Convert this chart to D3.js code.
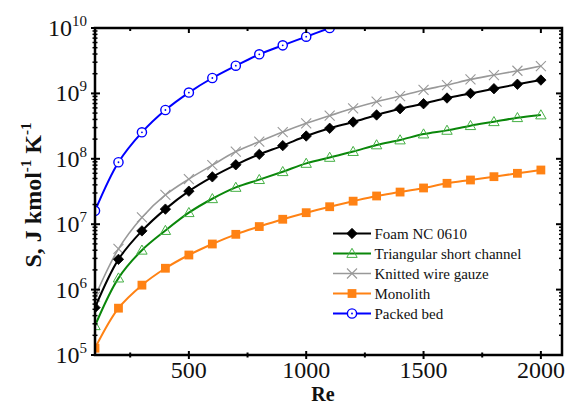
<!DOCTYPE html>
<html>
<head>
<meta charset="utf-8">
<script src="https://cdn.jsdelivr.net/npm/d3@7"></script>
<style>
  html, body { margin: 0; padding: 0; background: #fff; }
  svg { display: block; }
</style>
</head>
<body>
<svg id="chart" width="565" height="405"></svg>
<script>
// Reynolds numbers at which each packing was evaluated
const re = [100, 200, 300, 400, 500, 600, 700, 800, 900, 1000,
            1100, 1200, 1300, 1400, 1500, 1600, 1700, 1800, 1900, 2000];
const reShort = [100, 200, 300, 400, 500, 600, 700, 800, 900, 1000, 1100];

// Entropy generation S, J kmol^-1 K^-1
const foam = [5.3e5, 2.9e6, 7.9e6, 1.7e7, 3.2e7, 5.3e7, 8.1e7, 1.17e8, 1.59e8, 2.23e8,
              2.93e8, 3.65e8, 4.68e8, 5.83e8, 6.96e8, 8.5e8, 1.0e9, 1.18e9, 1.38e9, 1.6e9];
const triangular = [2.8e5, 1.5e6, 4.0e6, 8.0e6, 1.5e7, 2.45e7, 3.65e7, 4.8e7, 6.35e7, 8.5e7,
                    1.05e8, 1.29e8, 1.63e8, 1.94e8, 2.39e8, 2.72e8, 3.21e8, 3.69e8, 4.25e8, 4.68e8];
const knitted = [7.8e5, 4.2e6, 1.27e7, 2.8e7, 4.9e7, 8.0e7, 1.29e8, 1.83e8, 2.56e8, 3.49e8,
                 4.56e8, 5.92e8, 7.46e8, 9.12e8, 1.13e9, 1.34e9, 1.64e9, 1.91e9, 2.22e9, 2.62e9];
const monolith = [1.27e5, 5.2e5, 1.17e6, 2.12e6, 3.38e6, 4.98e6, 7.0e6, 9.2e6, 1.19e7, 1.5e7,
                  1.85e7, 2.25e7, 2.7e7, 3.1e7, 3.58e7, 4.22e7, 4.74e7, 5.33e7, 6.0e7, 6.74e7];
const packed = [1.6e7, 8.85e7, 2.54e8, 5.57e8, 1.03e9, 1.72e9, 2.65e9, 3.96e9, 5.43e9, 7.36e9, 1.0e10];

const xTicks = [500, 1000, 1500, 2000];
const xMinorTicks = [250, 750, 1250, 1750];
const yExponents = [5, 6, 7, 8, 9, 10];

const seriesNames = ["Foam NC 0610", "Triangular short channel", "Knitted wire gauze", "Monolith", "Packed bed"];

const series = [
  { name: seriesNames[0], x: re, y: foam, line: "#000", width: 2, marker: "diamond", stroke: "#000", fill: "#000" },
  { name: seriesNames[1], x: re, y: triangular, line: "#0a870a", width: 2, marker: "triangle", stroke: "#45b045", fill: "none" },
  { name: seriesNames[2], x: re, y: knitted, line: "#999", width: 1.6, marker: "cross", stroke: "#999", fill: "none" },
  { name: seriesNames[3], x: re, y: monolith, line: "#ff8214", width: 2, marker: "square", stroke: "#ff8214", fill: "#ff8214" },
  { name: seriesNames[4], x: reShort, y: packed, line: "#0000ff", width: 2, marker: "circle", stroke: "#0000ff", fill: "#fff" }
];

const FONT = "'Liberation Serif', 'Times New Roman', serif";
const svg = d3.select("#chart").attr("font-family", FONT);
const m = { left: 95, right: 3, top: 28, bottom: 50 };
const W = 565, H = 405;
const pw = W - m.left - m.right, ph = H - m.top - m.bottom;

const x = d3.scaleLinear().domain([100, 2090]).range([m.left, m.left + pw]);
const y = d3.scaleLog().domain([1e5, 1e10]).range([m.top + ph, m.top]);

svg.append("defs").append("clipPath").attr("id", "plotClip")
  .append("rect").attr("x", m.left).attr("y", m.top).attr("width", pw).attr("height", ph);

const plot = svg.append("g").attr("clip-path", "url(#plotClip)");

function drawMarker(g, type, cx, cy, s) {
  if (type === "diamond") {
    const r = 5.2;
    g.append("path").attr("d", `M${cx},${cy - r}L${cx + r},${cy}L${cx},${cy + r}L${cx - r},${cy}Z`)
      .attr("fill", s.fill).attr("stroke", s.stroke).attr("stroke-width", 0.8);
  } else if (type === "triangle") {
    const r = 5.2;
    g.append("path").attr("d", `M${cx},${cy - r}L${cx + r},${cy + r * 0.75}L${cx - r},${cy + r * 0.75}Z`)
      .attr("fill", "none").attr("stroke", s.stroke).attr("stroke-width", 1);
  } else if (type === "cross") {
    const r = 5;
    g.append("path").attr("d", `M${cx - r},${cy - r}L${cx + r},${cy + r}M${cx - r},${cy + r}L${cx + r},${cy - r}`)
      .attr("stroke", s.stroke).attr("stroke-width", 1.1);
  } else if (type === "square") {
    const r = 4.4;
    g.append("rect").attr("x", cx - r).attr("y", cy - r).attr("width", 2 * r).attr("height", 2 * r)
      .attr("fill", s.fill);
  } else if (type === "circle") {
    g.append("circle").attr("cx", cx).attr("cy", cy).attr("r", 4.6)
      .attr("fill", "#fff").attr("stroke", s.stroke).attr("stroke-width", 1.4);
    g.append("circle").attr("cx", cx).attr("cy", cy).attr("r", 0.9).attr("fill", s.stroke);
  }
}

const line = d3.line().curve(d3.curveCatmullRom.alpha(0.5));

// draw in reverse legend order so the foam curve ends up on top
[...series].reverse().forEach(s => {
  const pts = s.x.map((v, i) => [x(v), y(s.y[i])]);
  plot.append("path").attr("d", line(pts)).attr("fill", "none")
    .attr("stroke", s.line).attr("stroke-width", s.width);
  const mg = plot.append("g");
  pts.forEach(p => drawMarker(mg, s.marker, p[0], p[1], s));
});

// frame and ticks
const axisColor = "#000";
const frame = svg.append("g");
const x0 = m.left, x1 = m.left + pw, y0 = m.top + ph, y1 = m.top;

// left axis ticks cross the spine, right axis ticks point inward
yExponents.forEach(e => {
  const v = Math.pow(10, e);
  const py = y(v);
  frame.append("line").attr("x1", x0 - 4).attr("x2", x0 + 5).attr("y1", py).attr("y2", py)
    .attr("stroke", axisColor).attr("stroke-width", 2);
  frame.append("line").attr("x1", x1 - 6).attr("x2", x1).attr("y1", py).attr("y2", py)
    .attr("stroke", axisColor).attr("stroke-width", 2);
  if (e < 10) {
    for (let k = 2; k <= 9; k++) {
      const pm = y(k * v);
      frame.append("line").attr("x1", x0 - 2.5).attr("x2", x0 + 2.5).attr("y1", pm).attr("y2", pm)
        .attr("stroke", axisColor).attr("stroke-width", 1.5);
      frame.append("line").attr("x1", x1 - 3).attr("x2", x1).attr("y1", pm).attr("y2", pm)
        .attr("stroke", axisColor).attr("stroke-width", 1.5);
    }
  }
});

xTicks.forEach(t => {
  const px = x(t);
  frame.append("line").attr("x1", px).attr("x2", px).attr("y1", y0 - 4).attr("y2", y0 + 4)
    .attr("stroke", axisColor).attr("stroke-width", 2);
  frame.append("line").attr("x1", px).attr("x2", px).attr("y1", y1).attr("y2", y1 + 5)
    .attr("stroke", axisColor).attr("stroke-width", 2);
});
xMinorTicks.forEach(t => {
  const px = x(t);
  frame.append("line").attr("x1", px).attr("x2", px).attr("y1", y0 - 2.5).attr("y2", y0 + 2.5)
    .attr("stroke", axisColor).attr("stroke-width", 2);
  frame.append("line").attr("x1", px).attr("x2", px).attr("y1", y1).attr("y2", y1 + 3)
    .attr("stroke", axisColor).attr("stroke-width", 2);
});

frame.append("rect").attr("x", x0).attr("y", y1).attr("width", pw).attr("height", ph)
  .attr("fill", "none").attr("stroke", axisColor).attr("stroke-width", 2.5);

// tick labels
xTicks.forEach(t => {
  svg.append("text").attr("x", x(t)).attr("y", 377.5).attr("text-anchor", "middle")
    .attr("font-size", 24).attr("fill", "#111").text(t);
});
yExponents.forEach(e => {
  const t = svg.append("text").attr("x", 87).attr("y", y(Math.pow(10, e)) + 8)
    .attr("text-anchor", "end").attr("font-size", 24).attr("fill", "#111");
  t.append("tspan").text("10");
  t.append("tspan").attr("font-size", 15).attr("dy", -10).text(e);
});

// axis titles
svg.append("text").attr("x", 323).attr("y", 400.5).attr("text-anchor", "middle")
  .attr("font-size", 20).attr("font-weight", "bold").attr("fill", "#111").text("Re");

const yt = svg.append("text").attr("transform", "translate(41,195) rotate(-90)")
  .attr("text-anchor", "middle").attr("font-size", 24).attr("font-weight", "bold").attr("fill", "#111");
yt.append("tspan").text("S, J kmol");
yt.append("tspan").attr("font-size", 15).attr("dy", -10).text("-1");
yt.append("tspan").attr("dy", 10).text(" K");
yt.append("tspan").attr("font-size", 15).attr("dy", -10).text("-1");

// legend
const lg = svg.append("g");
series.forEach((s, i) => {
  const ly = 233.5 + i * 20;
  lg.append("line").attr("x1", 333).attr("x2", 371).attr("y1", ly).attr("y2", ly)
    .attr("stroke", s.line).attr("stroke-width", s.width);
  drawMarker(lg, s.marker, 352, ly, s);
  lg.append("text").attr("x", 374.5).attr("y", ly + 5).attr("font-size", 15)
    .attr("fill", "#111").text(s.name);
});
</script>
</body>
</html>
